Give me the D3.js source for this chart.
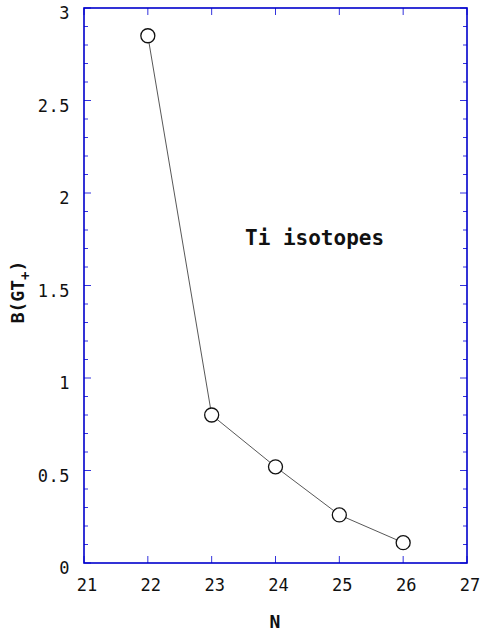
<!DOCTYPE html>
<html><head><meta charset="utf-8">
<script src="https://cdn.jsdelivr.net/npm/d3@7"></script>
<style>body{margin:0;background:#fff}</style>
</head><body>
<svg id="c" width="480" height="637"></svg>
<script>
const neutrons = [22, 23, 24, 25, 26];
const bgt = [2.85, 0.80, 0.52, 0.26, 0.11];
const xTicks = [21, 22, 23, 24, 25, 26, 27];
const yTicks = [0, 0.5, 1, 1.5, 2, 2.5, 3];
const yTickLabels = ["0", "0.5", "1", "1.5", "2", "2.5", "3"];
const annotation = "Ti isotopes";

const svg = d3.select("#c");
const L = 84, R = 467, T = 8, B = 563;
const x = d3.scaleLinear().domain([21, 27]).range([L, R]);
const y = d3.scaleLinear().domain([0, 3]).range([B, T]);
const blue = "#0000cc";
const tickFont = "'DejaVu Sans Mono', monospace";

const minor = d3.range(0, 3.0001, 0.1);
const g = svg.append("g");
minor.forEach(v => {
  const major = Math.abs(v * 2 - Math.round(v * 2)) < 1e-6;
  const len = major ? 7 : 4;
  g.append("line").attr("x1", L).attr("x2", L + len).attr("y1", y(v)).attr("y2", y(v))
    .attr("stroke", "#3333dd").attr("stroke-width", 1);
  g.append("line").attr("x1", R).attr("x2", R - len).attr("y1", y(v)).attr("y2", y(v))
    .attr("stroke", "#3333dd").attr("stroke-width", 1);
});
xTicks.forEach(v => {
  g.append("line").attr("x1", x(v)).attr("x2", x(v)).attr("y1", B).attr("y2", B - 7)
    .attr("stroke", "#3333dd").attr("stroke-width", 1);
  g.append("line").attr("x1", x(v)).attr("x2", x(v)).attr("y1", T).attr("y2", T + 7)
    .attr("stroke", "#3333dd").attr("stroke-width", 1);
});
svg.append("rect").attr("x", L).attr("y", T).attr("width", R - L).attr("height", B - T)
  .attr("fill", "none").attr("stroke", blue).attr("stroke-width", 1.6);

svg.append("g").selectAll("text").data(yTicks).join("text")
  .attr("x", 70).attr("y", d => y(d) + 11)
  .attr("text-anchor", "end").attr("font-family", tickFont).attr("font-size", 17)
  .attr("letter-spacing", 0.5)
  .attr("fill", "#111").text((d, i) => yTickLabels[i]);
svg.append("g").selectAll("text").data(xTicks).join("text")
  .attr("x", d => x(d) + 3).attr("y", 591)
  .attr("text-anchor", "middle").attr("font-family", tickFont).attr("font-size", 17)
  .attr("fill", "#111").text(d => d);

const pts = neutrons.map((n, i) => [n, bgt[i]]);
svg.append("path").datum(pts)
  .attr("d", d3.line().x(d => x(d[0])).y(d => y(d[1])))
  .attr("fill", "none").attr("stroke", "#444").attr("stroke-width", 0.9);
svg.append("g").selectAll("circle").data(pts).join("circle")
  .attr("cx", d => x(d[0])).attr("cy", d => y(d[1])).attr("r", 7)
  .attr("fill", "#fff").attr("stroke", "#111").attr("stroke-width", 1.3);

svg.append("text").attr("x", 275).attr("y", 628).attr("text-anchor", "middle")
  .attr("font-family", tickFont).attr("font-weight", "bold").attr("font-size", 18)
  .attr("fill", "#111").text("N");
const yt = svg.append("text").attr("transform", "translate(24,292) rotate(-90)")
  .attr("text-anchor", "middle").attr("font-family", tickFont).attr("font-weight", "bold")
  .attr("font-size", 18).attr("fill", "#111");
yt.append("tspan").text("B(GT");
yt.append("tspan").attr("dy", 6).attr("font-size", 14).text("+");
yt.append("tspan").attr("dy", -6).text(")");

svg.append("text").attr("x", 245).attr("y", 245)
  .attr("font-family", tickFont).attr("font-weight", "bold").attr("font-size", 21)
  .attr("fill", "#111").text(annotation);
</script>
</body></html>
